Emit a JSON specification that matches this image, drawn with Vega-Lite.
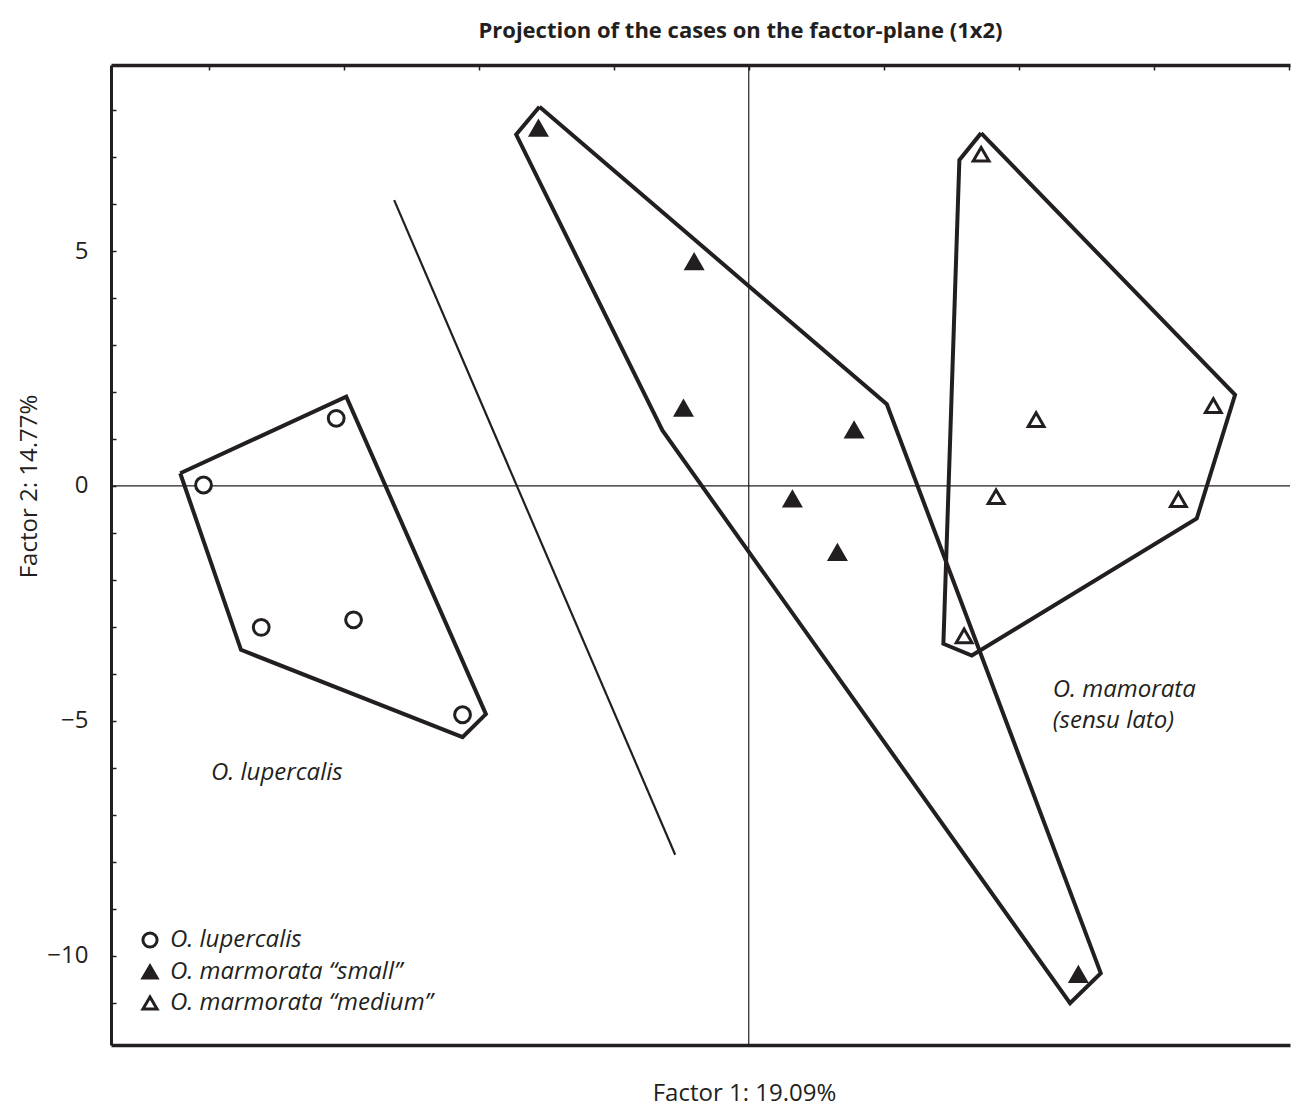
{
  "$schema": "https://vega.github.io/schema/vega-lite/v6.json",
  "width": 1179,
  "height": 980,
  "autosize": {"type": "none"},
  "padding": {"left": 111, "top": 65, "right": 2, "bottom": 61},
  "background": "white",
  "config": {
    "view": {"stroke": null},
    "font": "Open Sans",
    "axis": {"grid": false, "domainColor": "#231f20", "tickColor": "#231f20", "labelColor": "#231f20", "titleColor": "#231f20", "labelFont": "Open Sans", "titleFont": "Open Sans"},
    "legend": {"symbolStrokeWidth": 3, "symbolStrokeColor": "#231f20"}
  },
  "title": {"text": "Projection of the cases on the factor-plane (1x2)", "fontSize": 22, "fontWeight": "bold", "font": "Open Sans", "color": "#231f20", "anchor": "middle", "frame": "group", "dx": 40, "baseline": "alphabetic", "offset": 4},
  "datasets": {
    "points": [
      {"species": "O. lupercalis", "x": -8.079, "y": 0.02},
      {"species": "O. lupercalis", "x": -6.113, "y": 1.44},
      {"species": "O. lupercalis", "x": -7.224, "y": -3.01},
      {"species": "O. lupercalis", "x": -5.856, "y": -2.85},
      {"species": "O. lupercalis", "x": -4.241, "y": -4.87},
      {"species": "O. marmorata “small”", "x": -3.116, "y": 7.61},
      {"species": "O. marmorata “small”", "x": -0.809, "y": 4.77},
      {"species": "O. marmorata “small”", "x": -0.967, "y": 1.65},
      {"species": "O. marmorata “small”", "x": 1.561, "y": 1.19},
      {"species": "O. marmorata “small”", "x": 0.647, "y": -0.28},
      {"species": "O. marmorata “small”", "x": 1.314, "y": -1.42},
      {"species": "O. marmorata “small”", "x": 4.884, "y": -10.4},
      {"species": "O. marmorata “medium”", "x": 3.443, "y": 7.06},
      {"species": "O. marmorata “medium”", "x": 4.258, "y": 1.41},
      {"species": "O. marmorata “medium”", "x": 6.884, "y": 1.71},
      {"species": "O. marmorata “medium”", "x": 3.665, "y": -0.23},
      {"species": "O. marmorata “medium”", "x": 6.366, "y": -0.29},
      {"species": "O. marmorata “medium”", "x": 3.191, "y": -3.19}
    ],
    "hulls": [
      {"group": "lupercalis", "order": 1, "x": -8.424, "y": 0.27},
      {"group": "lupercalis", "order": 2, "x": -5.964, "y": 1.9},
      {"group": "lupercalis", "order": 3, "x": -3.895, "y": -4.857},
      {"group": "lupercalis", "order": 4, "x": -4.241, "y": -5.347},
      {"group": "lupercalis", "order": 5, "x": -7.524, "y": -3.489},
      {"group": "lupercalis", "order": 6, "x": -8.424, "y": 0.27},
      {"group": "small", "order": 1, "x": -3.101, "y": 8.07},
      {"group": "small", "order": 2, "x": 2.046, "y": 1.74},
      {"group": "small", "order": 3, "x": 5.216, "y": -10.37},
      {"group": "small", "order": 4, "x": 4.761, "y": -11.01},
      {"group": "small", "order": 5, "x": -1.279, "y": 1.18},
      {"group": "small", "order": 6, "x": -3.446, "y": 7.48},
      {"group": "small", "order": 7, "x": -3.101, "y": 8.07},
      {"group": "medium", "order": 1, "x": 3.443, "y": 7.51},
      {"group": "medium", "order": 2, "x": 7.206, "y": 1.94},
      {"group": "medium", "order": 3, "x": 6.639, "y": -0.69},
      {"group": "medium", "order": 4, "x": 3.305, "y": -3.61},
      {"group": "medium", "order": 5, "x": 2.884, "y": -3.36},
      {"group": "medium", "order": 6, "x": 3.121, "y": 6.94},
      {"group": "medium", "order": 7, "x": 3.443, "y": 7.51}
    ],
    "separator": [
      {"order": 1, "x": -5.254, "y": 6.085},
      {"order": 2, "x": -1.09, "y": -7.85}
    ],
    "labels": [
      {"label": "O. lupercalis", "x": -7.969, "y": -6.255},
      {"label": "O. mamorata", "x": 4.505, "y": -4.49},
      {"label": "(sensu lato)", "x": 4.505, "y": -5.15}
    ]
  },
  "layer": [
    {
      "data": {"values": [{}]},
      "mark": {"type": "rule", "color": "#231f20", "strokeWidth": 1.2},
      "encoding": {
        "x": {"datum": 0, "type": "quantitative", "scale": {"domain": [-9.45, 8.02], "nice": false, "zero": false}, "axis": null}
      }
    },
    {
      "data": {"values": [{}]},
      "mark": {"type": "rule", "color": "#231f20", "strokeWidth": 1.2},
      "encoding": {
        "y": {"datum": 0, "type": "quantitative", "scale": {"domain": [-11.9, 8.96], "nice": false, "zero": false}, "axis": null}
      }
    },
    {
      "data": {"name": "hulls"},
      "mark": {"type": "line", "color": "#231f20", "strokeWidth": 4, "strokeJoin": "miter"},
      "encoding": {
        "x": {"field": "x", "type": "quantitative", "scale": {"domain": [-9.45, 8.02], "nice": false, "zero": false},
          "axis": {"orient": "top", "values": [-8, -6, -4, -2, 0, 2, 4, 6, 8], "labels": false, "title": null, "tickSize": -5, "tickWidth": 1.5, "domainWidth": 3.5}},
        "y": {"field": "y", "type": "quantitative", "scale": {"domain": [-11.9, 8.96], "nice": false, "zero": false},
          "axis": {"orient": "left", "values": [-11, -10, -9, -8, -7, -6, -5, -4, -3, -2, -1, 0, 1, 2, 3, 4, 5, 6, 7, 8],
            "labelExpr": "datum.value % 5 == 0 ? datum.label : ''", "tickSize": -5, "tickWidth": 1.5, "domainWidth": 3,
            "labelFontSize": 24, "labelPadding": 28, "labelAlign": "right", "labelBaseline": "middle",
            "title": "Factor 2: 14.77%", "titleFontSize": 24, "titleFontWeight": "normal", "titleAngle": 270,
            "titleX": -75, "titleY": 421, "titleAlign": "center", "titleBaseline": "alphabetic"}},
        "detail": {"field": "group"},
        "order": {"field": "order", "type": "quantitative"}
      }
    },
    {
      "data": {"name": "separator"},
      "mark": {"type": "line", "color": "#231f20", "strokeWidth": 2.2},
      "encoding": {
        "x": {"field": "x", "type": "quantitative", "scale": {"domain": [-9.45, 8.02], "nice": false, "zero": false},
          "axis": {"orient": "bottom", "ticks": false, "labels": false, "domainWidth": 3.5,
            "title": "Factor 1: 19.09%", "titleFontSize": 24, "titleFontWeight": "normal",
            "titleX": 633, "titleY": 55, "titleAlign": "center", "titleBaseline": "alphabetic"}},
        "y": {"field": "y", "type": "quantitative", "scale": {"domain": [-11.9, 8.96], "nice": false, "zero": false}, "axis": null},
        "order": {"field": "order", "type": "quantitative"}
      }
    },
    {
      "data": {"name": "points"},
      "mark": {"type": "point", "filled": true, "strokeWidth": 3, "opacity": 1, "size": 250},
      "encoding": {
        "x": {"field": "x", "type": "quantitative", "scale": {"domain": [-9.45, 8.02], "nice": false, "zero": false}, "axis": null},
        "y": {"field": "y", "type": "quantitative", "scale": {"domain": [-11.9, 8.96], "nice": false, "zero": false}, "axis": null},
        "shape": {"field": "species", "type": "nominal",
          "scale": {"domain": ["O. lupercalis", "O. marmorata “small”", "O. marmorata “medium”"], "range": ["circle", "triangle-up", "triangle-up"]},
          "legend": {"title": null, "orient": "none", "legendX": 27, "legendY": 863, "labelFontSize": 24, "labelFontStyle": "italic", "labelFont": "Open Sans", "labelColor": "#231f20", "labelLimit": 0, "symbolStrokeWidth": 3, "symbolSize": 200, "labelOffset": 8, "rowPadding": 5, "padding": 0,
            "encode": {"symbols": {"update": {"strokeWidth": {"value": 3}}}}}},
        "fill": {"field": "species", "type": "nominal",
          "scale": {"domain": ["O. lupercalis", "O. marmorata “small”", "O. marmorata “medium”"], "range": ["white", "#231f20", "white"]},
          "legend": {"title": null, "orient": "none", "legendX": 27, "legendY": 863, "labelFontSize": 24, "labelFontStyle": "italic", "labelFont": "Open Sans", "labelColor": "#231f20", "labelLimit": 0, "symbolStrokeWidth": 3, "symbolSize": 200, "labelOffset": 8, "rowPadding": 5, "padding": 0,
            "encode": {"symbols": {"update": {"strokeWidth": {"value": 3}}}}}},
        "stroke": {"field": "species", "type": "nominal",
          "scale": {"domain": ["O. lupercalis", "O. marmorata “small”", "O. marmorata “medium”"], "range": ["#231f20", "#231f20", "#231f20"]},
          "legend": {"title": null, "orient": "none", "legendX": 27, "legendY": 863, "labelFontSize": 24, "labelFontStyle": "italic", "labelFont": "Open Sans", "labelColor": "#231f20", "labelLimit": 0, "symbolStrokeWidth": 3, "symbolSize": 200, "labelOffset": 8, "rowPadding": 5, "padding": 0,
            "encode": {"symbols": {"update": {"strokeWidth": {"value": 3}}}}}}
      }
    },
    {
      "data": {"name": "labels"},
      "mark": {"type": "text", "font": "Open Sans", "fontSize": 24, "fontStyle": "italic", "align": "left", "baseline": "alphabetic", "color": "#231f20"},
      "encoding": {
        "x": {"field": "x", "type": "quantitative", "scale": {"domain": [-9.45, 8.02], "nice": false, "zero": false}, "axis": null},
        "y": {"field": "y", "type": "quantitative", "scale": {"domain": [-11.9, 8.96], "nice": false, "zero": false}, "axis": null},
        "text": {"field": "label"}
      }
    }
  ],
  "resolve": {"axis": {"x": "independent", "y": "independent"}}
}
